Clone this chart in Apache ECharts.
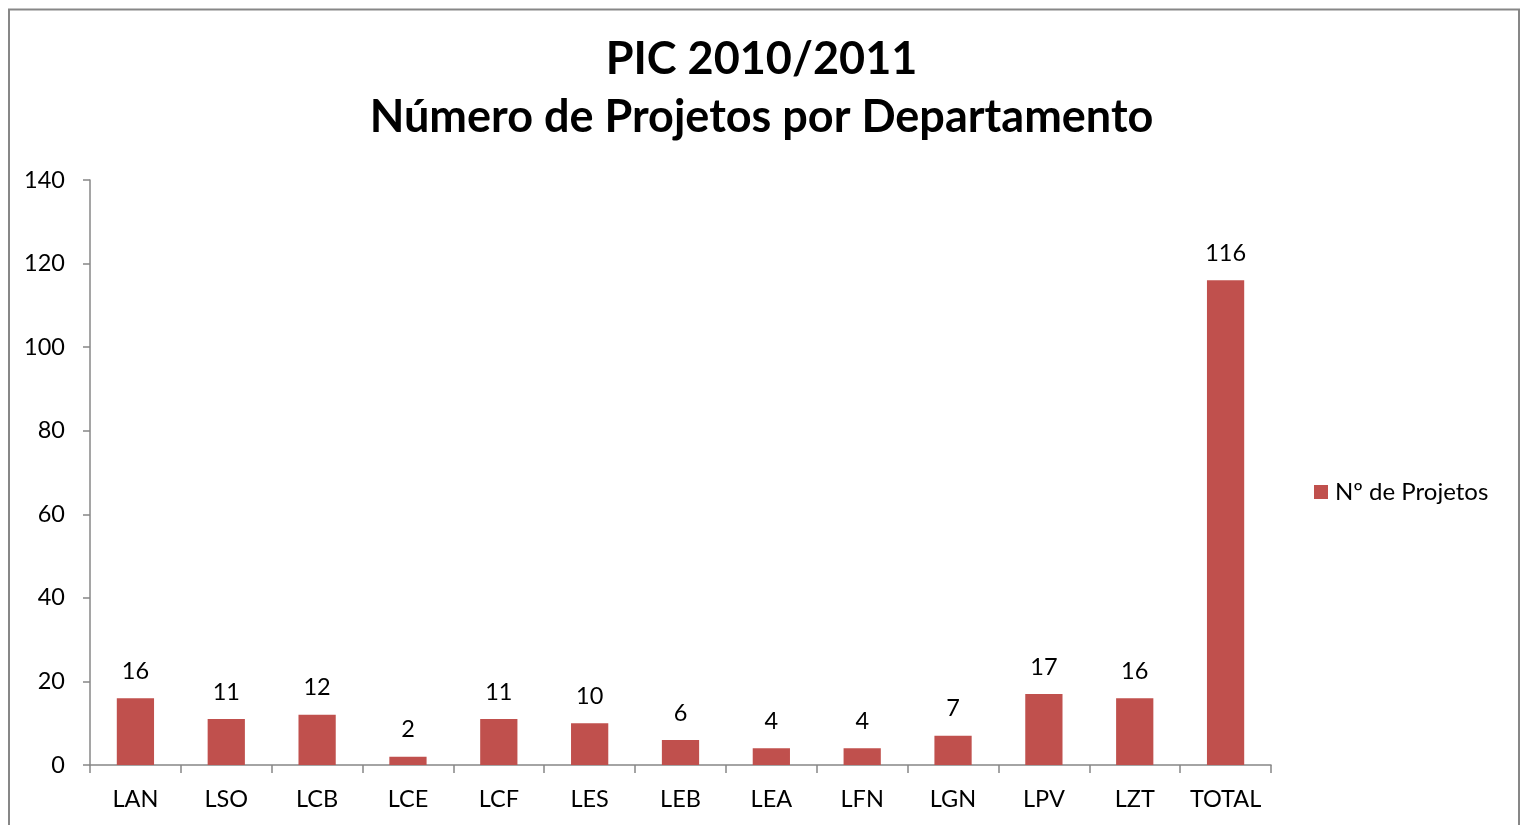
<!DOCTYPE html>
<html><head><meta charset="utf-8">
<script src="https://cdn.jsdelivr.net/npm/echarts@6/dist/echarts.min.js"></script>
<style>html,body{margin:0;padding:0;background:#fff}#c{width:1523px;height:825px}</style>
</head><body><div id="c"></div>
<script>
const categories = ['LAN','LSO','LCB','LCE','LCF','LES','LEB','LEA','LFN','LGN','LPV','LZT','TOTAL'];
const projetos = [16, 11, 12, 2, 11, 10, 6, 4, 4, 7, 17, 16, 116];
const seriesName = 'Nº de Projetos';
const titleLines = ['PIC 2010/2011', 'Número de Projetos por Departamento'];

const FONT = 'Lato, "Open Sans", sans-serif';
const axisColor = '#878787';
const chart = echarts.init(document.getElementById('c'));
chart.setOption({
  animation: false,
  graphic: [{
    type: 'rect', shape: {x: 9, y: 9.5, width: 1510, height: 900},
    style: {fill: 'none', stroke: axisColor, lineWidth: 2}
  }],
  title: {
    text: titleLines.join('\n'), left: 'center', top: 25,
    textStyle: {fontFamily: FONT, fontWeight: 'bold', fontSize: 45, lineHeight: 58, color: '#000'}
  },
  legend: {
    data: [seriesName], left: 1314, top: 480, orient: 'vertical', padding: 0,
    icon: 'rect', itemWidth: 14, itemHeight: 14, itemGap: 8,
    textStyle: {fontFamily: FONT, fontSize: 24, color: '#000', padding: [0, 0, 0, 2]}
  },
  grid: {left: 90, top: 180, width: 1181, height: 585, containLabel: false},
  xAxis: {
    type: 'category', data: categories,
    axisLine: {lineStyle: {color: axisColor, width: 1.5}},
    axisTick: {show: true, length: 8, lineStyle: {color: axisColor, width: 1.5}},
    axisLabel: {fontFamily: FONT, fontSize: 23.5, color: '#000', margin: 22, interval: 0}
  },
  yAxis: {
    type: 'value', min: 0, max: 140, interval: 20,
    splitLine: {show: false},
    axisLine: {show: true, lineStyle: {color: axisColor, width: 1.5}},
    axisTick: {show: true, length: 7, lineStyle: {color: axisColor, width: 1.5}},
    axisLabel: {fontFamily: FONT, fontSize: 23.5, color: '#000', margin: 25}
  },
  series: [{
    name: seriesName, type: 'bar', data: projetos, barWidth: '41%',
    itemStyle: {color: '#C0504D'},
    label: {show: true, position: 'top', distance: 15, fontFamily: FONT, fontSize: 23.5, color: '#000'}
  }]
});
</script></body></html>
